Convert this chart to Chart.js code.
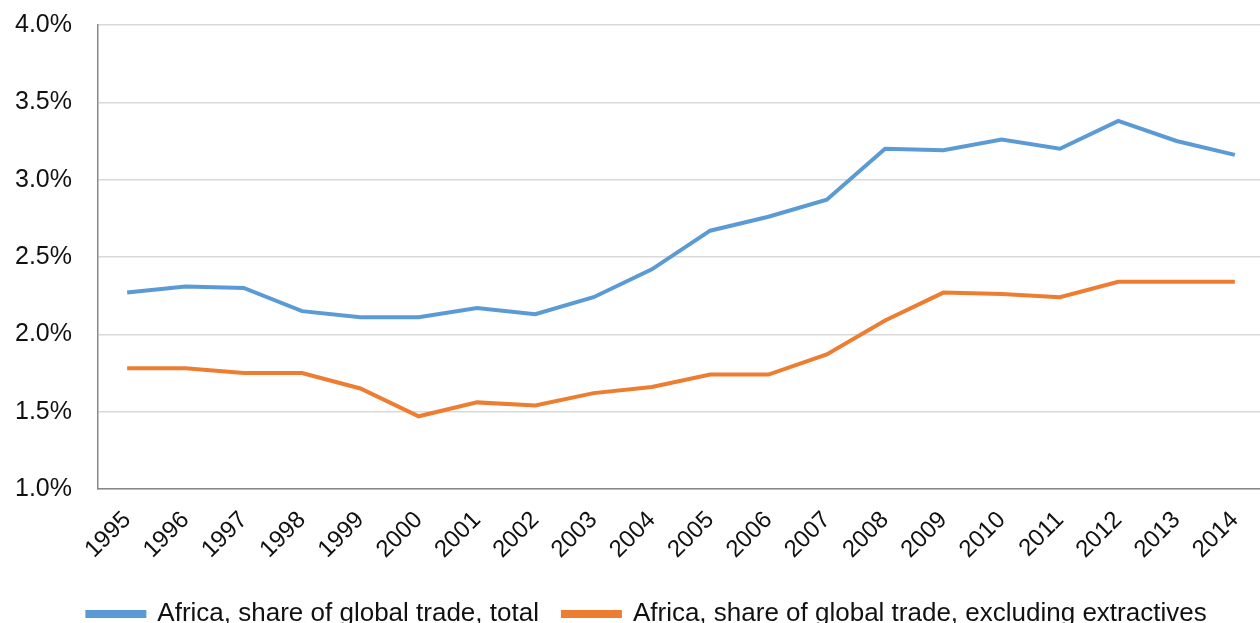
<!DOCTYPE html>
<html>
<head>
<meta charset="utf-8">
<script src="https://cdn.jsdelivr.net/npm/chart.js@4/dist/chart.umd.min.js"></script>
<style>
  html, body { margin: 0; padding: 0; background: #fff; overflow: hidden; }
  #wrap { width: 1266px; height: 623px; position: relative; }
</style>
</head>
<body>
<div id="wrap"><canvas id="chart"></canvas></div>
<script>
// chart data
const years = ['1995', '1996', '1997', '1998', '1999', '2000', '2001', '2002', '2003', '2004',
  '2005', '2006', '2007', '2008', '2009', '2010', '2011', '2012', '2013', '2014'];
const totalShare = [2.27, 2.31, 2.30, 2.15, 2.11, 2.11, 2.17, 2.13, 2.24, 2.42,
  2.67, 2.76, 2.87, 3.20, 3.19, 3.26, 3.20, 3.38, 3.25, 3.16];
const exExtractives = [1.78, 1.78, 1.75, 1.75, 1.65, 1.47, 1.56, 1.54, 1.62, 1.66,
  1.74, 1.74, 1.87, 2.09, 2.27, 2.26, 2.24, 2.34, 2.34, 2.34];
const seriesNames = ['Africa, share of global trade, total', 'Africa, share of global trade, excluding extractives'];

const fontFamily = '"Liberation Sans", Arial, Helvetica, sans-serif';

// nudge the legend a bit to the right, like the original
const legendShift = {
  id: 'legendShift',
  afterLayout(chart) {
    chart.legend.left += 15;
    chart.legend.right += 15;
  }
};

const ctx = document.getElementById('chart').getContext('2d');
new Chart(ctx, {
  type: 'line',
  data: {
    labels: years,
    datasets: [
      {
        label: seriesNames[0],
        data: totalShare,
        borderColor: '#5b9bd5',
        backgroundColor: '#5b9bd5',
        borderWidth: 4,
        pointRadius: 0,
        tension: 0
      },
      {
        label: seriesNames[1],
        data: exExtractives,
        borderColor: '#ed7d31',
        backgroundColor: '#ed7d31',
        borderWidth: 4,
        pointRadius: 0,
        tension: 0
      }
    ]
  },
  plugins: [legendShift],
  options: {
    responsive: true,
    maintainAspectRatio: false,
    animation: false,
    layout: { padding: { top: 25, left: 0, right: 2, bottom: -14 } },
    plugins: {
      tooltip: { enabled: false },
      legend: {
        position: 'bottom',
        labels: {
          color: '#111',
          font: { family: fontFamily, size: 26 },
          boxWidth: 57,
          boxHeight: 4,
          padding: 24
        }
      }
    },
    scales: {
      x: {
        offset: true,
        grid: { display: false, drawTicks: false },
        border: { color: '#888', width: 1.5 },
        ticks: {
          color: '#111',
          font: { family: fontFamily, size: 24 },
          minRotation: 45,
          maxRotation: 45,
          padding: 17
        },
        afterFit: scale => {
          scale.height = 88;
          scale.paddingLeft = 0;
          scale.paddingRight = 0;
        }
      },
      y: {
        min: 1,
        max: 4,
        grid: { color: '#d9d9d9', lineWidth: 1.5, drawTicks: false },
        border: { color: '#888', width: 1.5 },
        ticks: {
          stepSize: 0.5,
          color: '#111',
          font: { family: fontFamily, size: 25 },
          padding: 26,
          callback: v => v.toFixed(1) + '%'
        },
        afterFit: scale => {
          scale.width = 98;
          scale.paddingTop = 0;
          scale.paddingBottom = 0;
        }
      }
    }
  }
});
</script>
</body>
</html>
